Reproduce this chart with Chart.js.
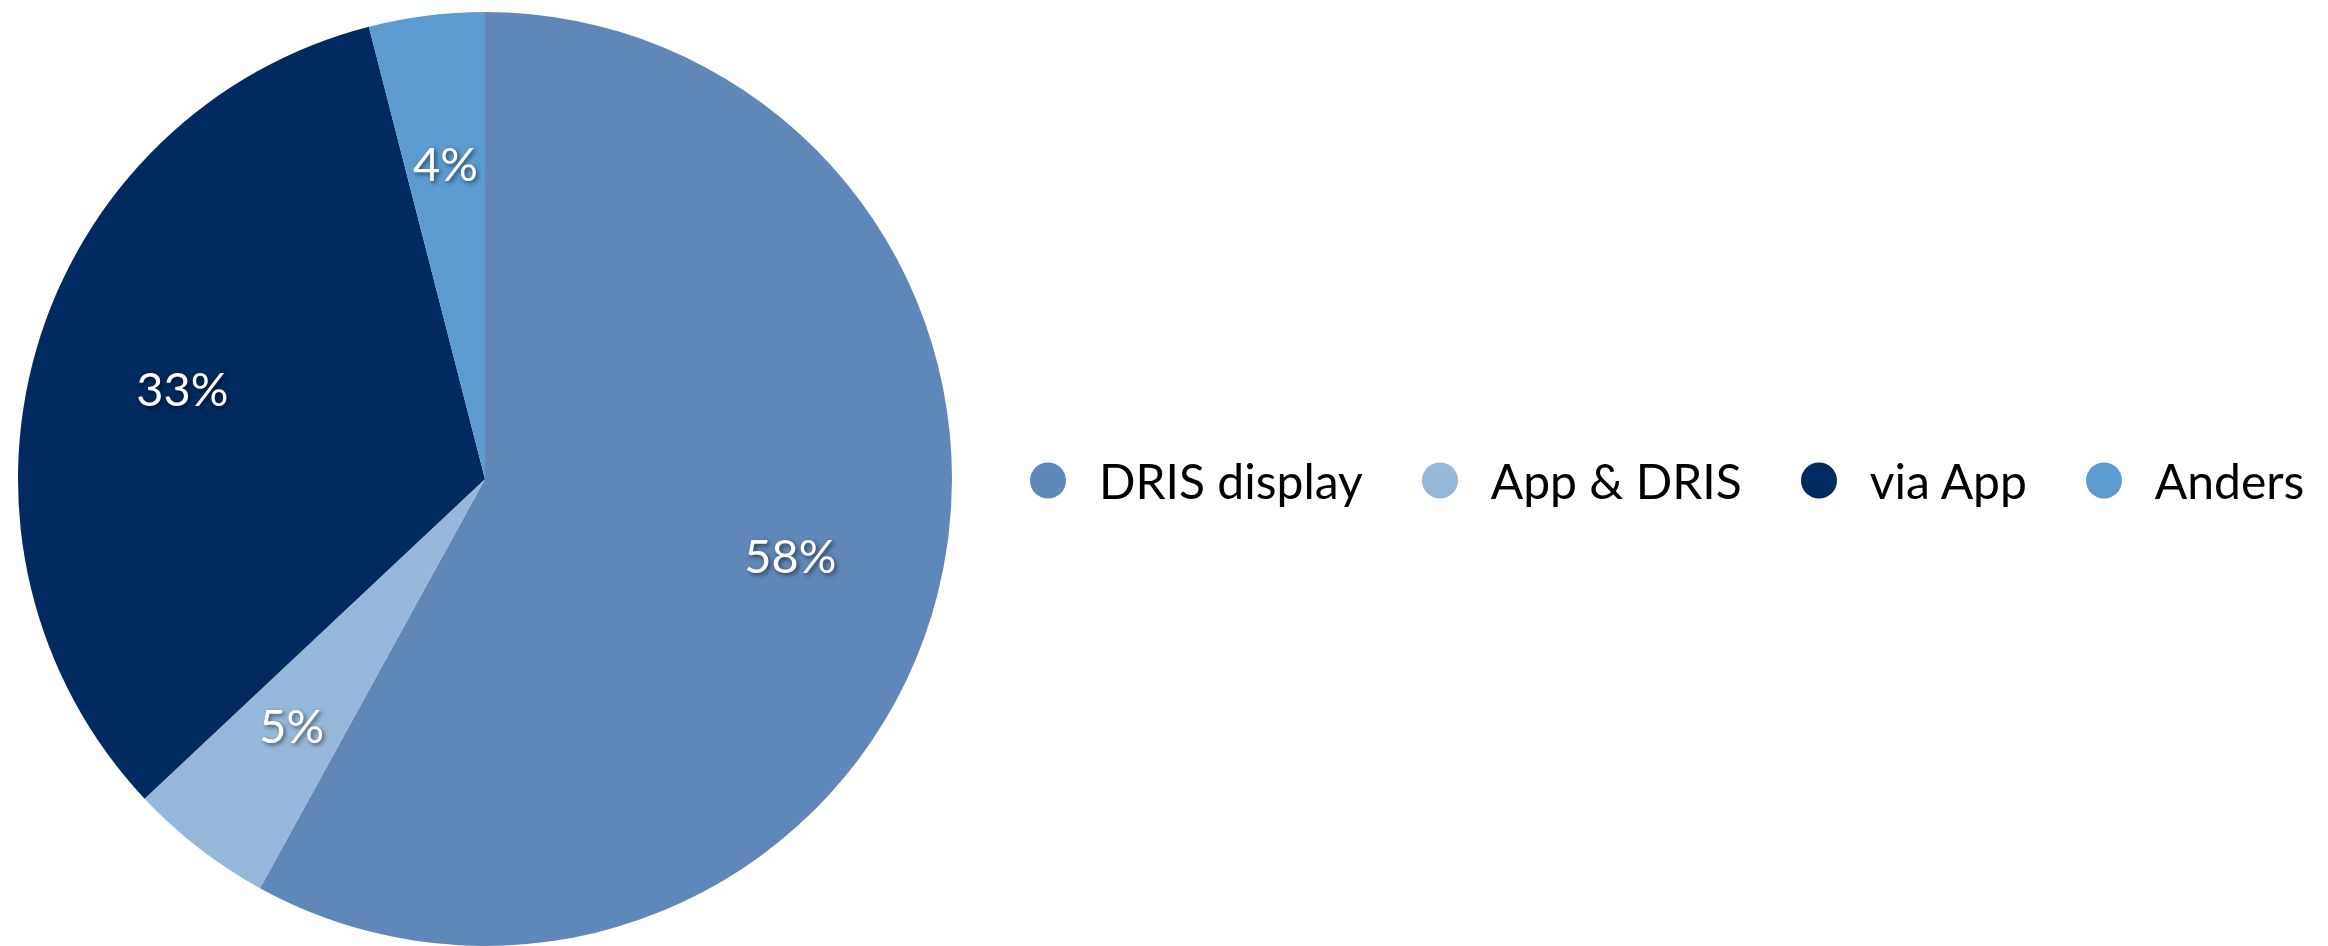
<!DOCTYPE html>
<html>
<head>
<meta charset="utf-8">
<script src="https://cdn.jsdelivr.net/npm/chart.js@4.4.1/dist/chart.umd.min.js"></script>
<style>
    html, body {
        margin: 0;
        padding: 0;
        background: #ffffff;
    }
    #wrap {
        position: relative;
        width: 2328px;
        height: 946px;
        overflow: hidden;
    }
    #pie_chart {
        position: absolute;
        left: 0;
        top: 0;
    }
    #legend {
        position: absolute;
        left: 1030px;
        top: 480px;
        transform: translateY(-50%);
        display: flex;
        align-items: center;
        font-family: Lato, 'Open Sans', sans-serif;
        font-size: 48px;
        color: #000;
        white-space: nowrap;
    }
    #legend .item {
        display: flex;
        align-items: center;
        margin-right: 59px;
    }
    #legend .item:last-child {
        margin-right: 0;
    }
    #legend .dot {
        width: 36px;
        height: 36px;
        border-radius: 50%;
        margin-right: 33px;
    }
</style>
</head>
<body>
<div id="wrap">
    <canvas id="pie_chart" width="2328" height="946"></canvas>
    <div id="legend"></div>
</div>
<script>
const categories = ['DRIS display', 'App & DRIS', 'via App', 'Anders'];
const shares = [58, 5, 33, 4];
const sliceColors = ['#5F87B8', '#95B8DA', '#002A60', '#5B9BD0'];

// percentage labels inside the slices
const sliceLabels = {
    id: 'sliceLabels',
    afterDatasetsDraw(chart) {
        const ctx = chart.ctx;
        const meta = chart.getDatasetMeta(0);
        ctx.save();
        ctx.font = '47px Lato, "Open Sans", sans-serif';
        ctx.fillStyle = '#ffffff';
        ctx.textAlign = 'center';
        ctx.textBaseline = 'middle';
        ctx.shadowColor = 'rgba(0, 0, 0, 0.55)';
        ctx.shadowBlur = 4;
        ctx.shadowOffsetX = 2;
        ctx.shadowOffsetY = 2;
        meta.data.forEach((arc, i) => {
            const p = arc.getProps(['x', 'y', 'startAngle', 'endAngle', 'outerRadius'], true);
            const mid = (p.startAngle + p.endAngle) / 2;
            const r = p.outerRadius * 0.675;
            ctx.fillText(shares[i] + '%', p.x + Math.cos(mid) * r, p.y + Math.sin(mid) * r);
        });
        ctx.restore();
    }
};

const pieCanvas = document.querySelector('#pie_chart');

new Chart(pieCanvas, {
    type: 'pie',
    data: {
        labels: categories,
        datasets: [{
            data: shares,
            backgroundColor: sliceColors,
            borderWidth: 0
        }]
    },
    options: {
        responsive: false,
        animation: false,
        layout: {
            padding: { left: 18, right: 1376, top: 12, bottom: 0 }
        },
        plugins: {
            legend: { display: false },
            tooltip: { enabled: false }
        }
    },
    plugins: [sliceLabels]
});

// legend built from the same arrays
const legendBox = document.querySelector('#legend');
categories.forEach((name, i) => {
    const item = document.createElement('div');
    item.className = 'item';
    const dot = document.createElement('span');
    dot.className = 'dot';
    dot.style.background = sliceColors[i];
    const txt = document.createElement('span');
    txt.textContent = name;
    item.appendChild(dot);
    item.appendChild(txt);
    legendBox.appendChild(item);
});
</script>
</body>
</html>
